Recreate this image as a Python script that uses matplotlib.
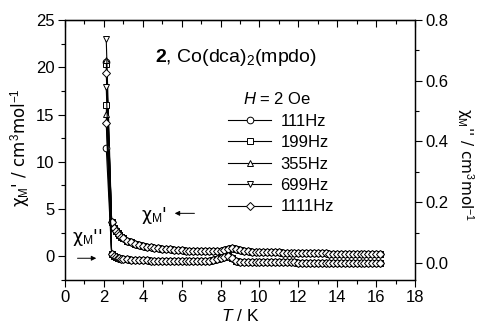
import matplotlib
matplotlib.use("Agg")
import matplotlib.pyplot as plt
from matplotlib.ticker import MultipleLocator

plt.rcParams['font.family'] = ['Liberation Sans', 'DejaVu Sans']
plt.rcParams['mathtext.fontset'] = 'custom'
plt.rcParams['mathtext.rm'] = 'Liberation Sans'
plt.rcParams['mathtext.it'] = 'Liberation Sans:italic'
plt.rcParams['mathtext.bf'] = 'Liberation Sans:bold'

# ---------------- data ----------------
freqs = ['111Hz', '199Hz', '355Hz', '699Hz', '1111Hz']
markers = ['o', 's', '^', 'v', 'D']
T_peak = 2.12
chi1_peak = [20.6, 20.3, 20.8, 23.0, 19.4]      # chi' at the peak (cm3/mol)
chi2_peak = [0.38, 0.52, 0.49, 0.58, 0.46]      # chi'' at the peak (cm3/mol)

T_tail = [2.4, 2.5, 2.6, 2.7, 2.8, 2.9, 3.0,
          3.2, 3.4, 3.6, 3.8, 4.0, 4.2, 4.4, 4.6, 4.8,
          5.0, 5.2, 5.4, 5.6, 5.8, 6.0, 6.2, 6.4, 6.6, 6.8,
          7.0, 7.2, 7.4, 7.6, 7.8, 8.0, 8.2, 8.4, 8.6, 8.8,
          9.0, 9.2, 9.4, 9.6, 9.8, 10.0, 10.2, 10.4, 10.6, 10.8,
          11.0, 11.2, 11.4, 11.6, 11.8, 12.0, 12.2, 12.4, 12.6, 12.8,
          13.0, 13.2, 13.4, 13.6, 13.8, 14.0, 14.2, 14.4, 14.6, 14.8,
          15.0, 15.2, 15.4, 15.6, 15.8, 16.0, 16.2]
chi1_tail = [3.6, 3.0, 2.7, 2.45, 2.25, 2.05, 1.9,
             1.65, 1.48, 1.34, 1.22, 1.12, 1.04, 0.97, 0.91, 0.86,
             0.81, 0.77, 0.73, 0.70, 0.67, 0.64, 0.61, 0.59, 0.57, 0.55,
             0.54, 0.53, 0.53, 0.54, 0.57, 0.62, 0.70, 0.80, 0.84, 0.76,
             0.66, 0.58, 0.53, 0.50, 0.48, 0.46, 0.45, 0.44, 0.43, 0.42,
             0.41, 0.40, 0.39, 0.38, 0.37, 0.36, 0.35, 0.34, 0.34, 0.33,
             0.32, 0.31, 0.31, 0.30, 0.29, 0.29, 0.28, 0.27, 0.27, 0.26,
             0.26, 0.25, 0.25, 0.24, 0.24, 0.23, 0.23]
chi2_tail = [0.030, 0.024, 0.020, 0.017, 0.015, 0.014, 0.013,
             0.012, 0.011, 0.010, 0.010, 0.009, 0.009, 0.008, 0.008, 0.007,
             0.007, 0.007, 0.006, 0.006, 0.006, 0.005, 0.005, 0.005, 0.005, 0.005,
             0.005, 0.006, 0.007, 0.009, 0.012, 0.015, 0.019, 0.022, 0.016, 0.008,
             0.004, 0.003, 0.002, 0.002, 0.002, 0.002, 0.002, 0.002, 0.002, 0.002,
             0.002, 0.002, 0.002, 0.002, 0.002, 0.001, 0.001, 0.001, 0.001, 0.001,
             0.001, 0.001, 0.001, 0.001, 0.001, 0.001, 0.001, 0.001, 0.001, 0.001,
             0.001, 0.001, 0.001, 0.001, 0.001, 0.001, 0.001]

# ---------------- figure ----------------
W, H = 478, 330
fig = plt.figure(figsize=(W / 100, H / 100), dpi=100)
ax = fig.add_axes([65 / W, 1 - 280 / H, 350 / W, 260 / H])
ax2 = ax.twinx()

mk = dict(color='black', lw=0.8, mfc='white', mec='black', mew=0.7)
handles = []
for f, m, p1, p2 in zip(freqs, markers, chi1_peak, chi2_peak):
    ms = 4.0 if m == 'D' else 4.8
    h, = ax.plot([T_peak] + T_tail, [p1] + chi1_tail, marker=m, ms=ms, **mk, label=f)
    ax2.plot([T_peak] + T_tail, [p2] + chi2_tail, marker=m, ms=ms, **mk)
    handles.append(h)

ax.set_xlim(0, 18)
ax.set_ylim(-2.5, 25)
ax2.set_ylim(-0.056, 0.8)

ax.xaxis.set_major_locator(MultipleLocator(2))
ax.xaxis.set_minor_locator(MultipleLocator(1))
ax.yaxis.set_major_locator(MultipleLocator(5))
ax.yaxis.set_minor_locator(MultipleLocator(2.5))
ax2.yaxis.set_major_locator(MultipleLocator(0.2))
ax2.yaxis.set_minor_locator(MultipleLocator(0.1))
ax2.yaxis.set_major_formatter(plt.FuncFormatter(lambda v, p: f"{v:.1f}"))

for a in (ax, ax2):
    a.tick_params(which='major', direction='out', length=5, width=0.8, labelsize=12, pad=2.5)
    a.tick_params(which='minor', direction='out', length=3, width=0.8)
    for s in a.spines.values():
        s.set_linewidth(0.9)

top = ax.secondary_xaxis('top')
top.xaxis.set_major_locator(MultipleLocator(2))
top.xaxis.set_minor_locator(MultipleLocator(1))
top.tick_params(which='major', direction='in', length=5, width=0.8, labeltop=False)
top.tick_params(which='minor', direction='in', length=3, width=0.8)

CHI = ['DejaVu Sans']
ax.set_xlabel(r"$T$ / K", fontsize=12.5, labelpad=2)
ax.set_ylabel(r"χ$_\mathrm{M}$' / cm$^3$mol$^{-1}$", fontsize=12, family=CHI)
ax.yaxis.set_label_coords(-0.095, 0.51)
ax2.set_ylabel(r"χ$_\mathrm{M}$'' / cm$^3$mol$^{-1}$", fontsize=11, family=CHI,
               rotation=-90, va='center')
ax2.yaxis.set_label_coords(1.143, 0.445)

# compound label
fig.text(155 / W, 1 - 58 / H, r"$\mathbf{2}$, Co(dca)$_2$(mpdo)", fontsize=14,
         ha='left', va='center')

# legend
fig.text(243 / W, 1 - 99 / H, r"$H$ = 2 Oe", fontsize=12, ha='left', va='center')
leg = ax.legend(handles=handles, loc='upper left', bbox_to_anchor=(228 / W, 1 - 114 / H),
                bbox_transform=fig.transFigure, frameon=False, fontsize=12,
                handlelength=2.6, handletextpad=0.55, labelspacing=0.38,
                borderpad=0, borderaxespad=0)

# annotations
ax.annotate("", xy=(5.5, 4.55), xytext=(6.8, 4.55),
            arrowprops=dict(arrowstyle='-|>', lw=0.7, color='black', mutation_scale=7))
ax.text(4.6, 4.3, r"χ$_\mathrm{M}$'", fontsize=12.5, ha='center', va='center', family=CHI)
ax.annotate("", xy=(1.75, -0.2), xytext=(0.5, -0.2),
            arrowprops=dict(arrowstyle='-|>', lw=0.7, color='black', mutation_scale=7))
ax.text(1.15, 2.0, r"χ$_\mathrm{M}$''", fontsize=12.5, ha='center', va='center', family=CHI)

fig.savefig("out.png", dpi=100)
